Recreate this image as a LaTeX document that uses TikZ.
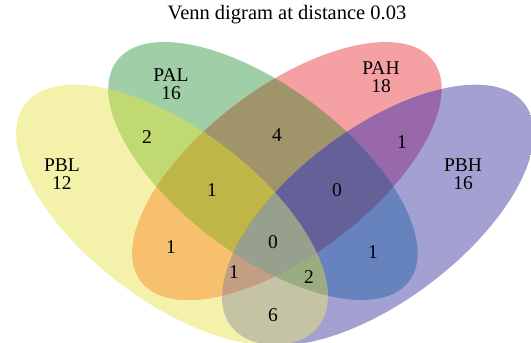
\documentclass[tikz,border=0pt]{standalone}
\usepackage{fontspec}
\setmainfont{Liberation Serif}
\newcommand\ellY[1]{#1[rotate around={-37:(172,215)}] (172,215) ellipse [x radius=184pt, y radius=86pt];}
\newcommand\ellG[1]{#1[rotate around={-37:(263,171)}] (263,171) ellipse [x radius=183pt, y radius=84pt];}
\newcommand\ellR[1]{#1[rotate around={37:(287,171)}] (287,171) ellipse [x radius=183pt, y radius=84pt];}
\newcommand\ellB[1]{#1[rotate around={37:(378,215)}] (378,215) ellipse [x radius=184pt, y radius=86pt];}
\newcommand\region[2]{\begin{scope}#2\fill[#1] (0,0) rectangle (531,343);\end{scope}}
\begin{document}
\begin{tikzpicture}[x=1pt,y=-1pt,
  lbl/.style={font=\fontsize{19.5}{18.5}\selectfont, align=center, inner sep=0pt}]
\definecolor{cY}{RGB}{244,241,170}
\definecolor{cG}{RGB}{160,206,166}
\definecolor{cR}{RGB}{245,161,164}
\definecolor{cB}{RGB}{163,161,210}
\definecolor{cYG}{RGB}{193,217,115}
\definecolor{cGR}{RGB}{160,148,106}
\definecolor{cRB}{RGB}{153,104,170}
\definecolor{cYR}{RGB}{247,192,108}
\definecolor{cGB}{RGB}{103,131,190}
\definecolor{cYB}{RGB}{196,196,164}
\definecolor{cYGR}{RGB}{190,183,72}
\definecolor{cGRB}{RGB}{102,96,152}
\definecolor{cYRB}{RGB}{196,158,130}
\definecolor{cYGB}{RGB}{155,172,128}
\definecolor{cYGRB}{RGB}{150,160,140}
\useasboundingbox (0,0) rectangle (531,343);
\clip (0,0) rectangle (531,343);
% single sets
\region{cY}{\ellY{\clip}}
\region{cG}{\ellG{\clip}}
\region{cR}{\ellR{\clip}}
\region{cB}{\ellB{\clip}}
% pairs
\region{cYG}{\ellY{\clip}\ellG{\clip}}
\region{cGR}{\ellG{\clip}\ellR{\clip}}
\region{cRB}{\ellR{\clip}\ellB{\clip}}
\region{cYR}{\ellY{\clip}\ellR{\clip}}
\region{cGB}{\ellG{\clip}\ellB{\clip}}
\region{cYB}{\ellY{\clip}\ellB{\clip}}
% triples
\region{cYGR}{\ellY{\clip}\ellG{\clip}\ellR{\clip}}
\region{cGRB}{\ellG{\clip}\ellR{\clip}\ellB{\clip}}
\region{cYRB}{\ellY{\clip}\ellR{\clip}\ellB{\clip}}
\region{cYGB}{\ellY{\clip}\ellG{\clip}\ellB{\clip}}
% all four
\region{cYGRB}{\ellY{\clip}\ellG{\clip}\ellR{\clip}\ellB{\clip}}
% title
\node[lbl, font=\fontsize{20.5}{20}\selectfont] (title) at (287,15) {Venn digram at distance 0.03};
% set labels
\node[lbl] (pal) at (171,84) {PAL\\16};
\node[lbl] (pah) at (381,77) {PAH\\18};
\node[lbl] (pbl) at (62,174) {PBL\\12};
\node[lbl] (pbh) at (463,174) {PBH\\16};
% region counts
\node[lbl] (r1) at (147,137) {2};
\node[lbl] (r2) at (277,135) {4};
\node[lbl] (r3) at (402,142) {1};
\node[lbl] (r4) at (212,190) {1};
\node[lbl] (r5) at (337,190) {0};
\node[lbl] (r6) at (171,247) {1};
\node[lbl] (r7) at (273,242) {0};
\node[lbl] (r8) at (373,252) {1};
\node[lbl] (r9) at (234,272) {1};
\node[lbl] (r10) at (309,277) {2};
\node[lbl] (r11) at (273,315) {6};
\end{tikzpicture}
\end{document}
